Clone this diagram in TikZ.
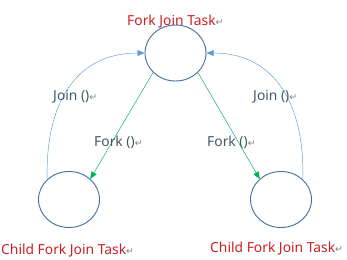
\documentclass[tikz,border=0pt]{standalone}
\usepackage{fontspec}
\setmainfont{Noto Sans}
\newfontfamily\symfont{DejaVu Sans}
\usepackage{tikz}
\usetikzlibrary{arrows,arrows.meta,positioning,shapes,calc}
\definecolor{taskred}{RGB}{204,30,36}
\definecolor{calltext}{RGB}{68,84,106}
\definecolor{ringblue}{RGB}{72,114,160}
\definecolor{joinblue}{RGB}{95,155,215}
\definecolor{forkgreen}{RGB}{0,176,80}
\newcommand{\pmark}{{\color{gray}\symfont\fontsize{8}{8}\selectfont ↵}}

\begin{document}
\begin{tikzpicture}[x=0.03cm, y=-0.03cm,
  task/.style={ellipse, draw=ringblue, thick, inner sep=0, minimum width=1.83cm, minimum height=1.68cm},
  tasklabel/.style={anchor=west, inner sep=0, text=taskred, font=\fontsize{11.8}{13}\selectfont},
  calllabel/.style={anchor=west, inner sep=0, text=calltext, font=\fontsize{11.8}{13}\selectfont},
  forkarrow/.style={draw=forkgreen, -{Triangle[length=6pt,width=5pt]}},
  joinarrow/.style={draw=joinblue, -{Triangle[length=6pt,width=5pt]}}]

\useasboundingbox (0,0) rectangle (347,259);

% the three tasks
\node[task] (parent) at (175.5,53) {};
\node[task] (childl) at (69,199.5) {};
\node[task] (childr) at (281,199.5) {};

\node[tasklabel] (parentlbl) at (127,22) {Fork Join Task\pmark};
\node[tasklabel] (childllbl) at (1,250.5) {Child Fork Join Task\pmark};
\node[tasklabel] (childrlbl) at (210,249) {Child Fork Join Task\pmark};

% fork: parent -> children
\draw[forkarrow] (parent.221) -- (childl.44);
\draw[forkarrow] (parent.319) -- (childr.136);
\node[calllabel] (forkl) at (94,142) {Fork ()\pmark};
\node[calllabel] (forkr) at (207,142) {Fork ()\pmark};

% join: children -> parent
\draw[joinarrow] (childl.137) .. controls (45,105) and (75,53) .. (parent.west);
\draw[joinarrow] (childr.43) .. controls (305,105) and (275,53) .. (parent.east);
\node[calllabel] (joinl) at (53,97) {Join ()\pmark};
\node[calllabel] (joinr) at (253,97) {Join ()\pmark};
\end{tikzpicture}
\end{document}
